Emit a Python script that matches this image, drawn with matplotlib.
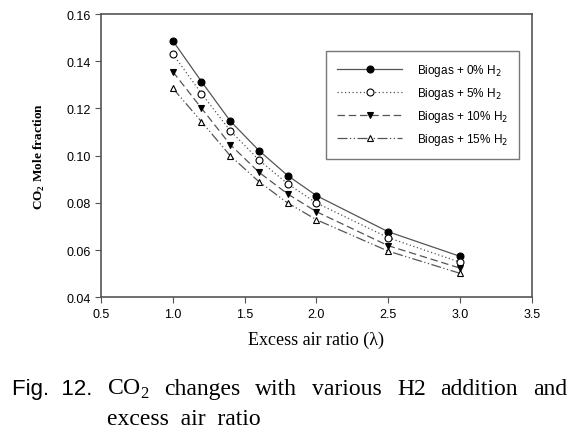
import matplotlib.pyplot as plt

# excess air ratio and CO2 mole fraction for each H2 addition
lam = [1.0, 1.2, 1.4, 1.6, 1.8, 2.0, 2.5, 3.0]
co2_h2_0 = [0.1487, 0.1314, 0.1147, 0.1022, 0.0916, 0.0831, 0.0678, 0.0574]
co2_h2_5 = [0.1431, 0.1263, 0.1106, 0.0982, 0.0881, 0.0800, 0.0653, 0.0549]
co2_h2_10 = [0.1356, 0.1201, 0.1047, 0.0930, 0.0838, 0.0763, 0.0619, 0.0524]
co2_h2_15 = [0.1286, 0.1144, 0.1000, 0.0890, 0.0800, 0.0729, 0.0596, 0.0502]
labels = ["Biogas + 0% H$_2$", "Biogas + 5% H$_2$",
          "Biogas + 10% H$_2$", "Biogas + 15% H$_2$"]
caption1 = ["CO$_\\mathregular{2}$", "changes", "with", "various", "H2",
            "addition", "and"]
caption2 = "excess  air  ratio"

fig = plt.figure(figsize=(5.87, 4.35), dpi=100)
ax = fig.add_axes([0.172, 0.314, 0.734, 0.6515])

gray = "#555555"
styles = [
    dict(ls="-", marker="o", mfc="black"),
    dict(ls=(0, (1, 2)), marker="o", mfc="white"),
    dict(ls=(0, (6, 3)), marker="v", mfc="black"),
    dict(ls=(0, (8, 2, 1, 2, 1, 2)), marker="^", mfc="white"),
]
for ys, lab, st in zip([co2_h2_0, co2_h2_5, co2_h2_10, co2_h2_15], labels, styles):
    ax.plot(lam, ys, color=gray, lw=0.9, ls=st["ls"], marker=st["marker"],
            mfc=st["mfc"], mec="black", mew=0.8, ms=5, label=lab)

ax.set_xlim(0.5, 3.5)
ax.set_ylim(0.04, 0.16)
ax.set_xticks([0.5, 1.0, 1.5, 2.0, 2.5, 3.0, 3.5])
ax.set_yticks([0.04, 0.06, 0.08, 0.10, 0.12, 0.14, 0.16])
ax.xaxis.set_major_formatter(plt.FormatStrFormatter("%.1f"))
ax.yaxis.set_major_formatter(plt.FormatStrFormatter("%.2f"))
for lbl in ax.get_xticklabels() + ax.get_yticklabels():
    lbl.set_fontfamily("Liberation Sans")
    lbl.set_fontsize(9)
ax.tick_params(direction="out", length=4, color=gray, top=False, right=False)
for sp in ax.spines.values():
    sp.set_color(gray)
    sp.set_linewidth(1.2)

ax.set_xlabel("Excess air ratio (\u03bb)", family="Liberation Serif",
              fontsize=13, labelpad=8)
ax.set_ylabel("CO$_\\mathregular{2}$ Mole fraction", family="Liberation Serif",
              fontsize=9.5, fontweight="bold", labelpad=14)

leg = ax.legend(loc="upper right", bbox_to_anchor=(0.970, 0.8695),
                borderaxespad=0,
                prop={"family": "Liberation Sans", "size": 8.5},
                fancybox=False, edgecolor=gray, handlelength=5.5,
                labelspacing=0.6, borderpad=0.95, handletextpad=1.2)
leg.get_frame().set_linewidth(1.0)

# caption: sans "Fig. 12." then a justified serif line
fig.text(12 / 587, 0.092, "Fig.  12.", family="Liberation Sans", fontsize=16,
         va="baseline")
fig.canvas.draw()
renderer = fig.canvas.get_renderer()
x0, x1 = 107, 567
words = []
for w in caption1:
    t = fig.text(0, 0.092, w, family="Liberation Serif", fontsize=17,
                 va="baseline")
    words.append(t)
widths = [t.get_window_extent(renderer).width for t in words]
gap = (x1 - x0 - sum(widths)) / (len(words) - 1)
x = x0
for t, wdt in zip(words, widths):
    t.set_x(x / 587)
    x += wdt + gap
fig.text(x0 / 587, 0.023, caption2, family="Liberation Serif", fontsize=17,
         va="baseline")

fig.savefig("out.png", dpi=100)
